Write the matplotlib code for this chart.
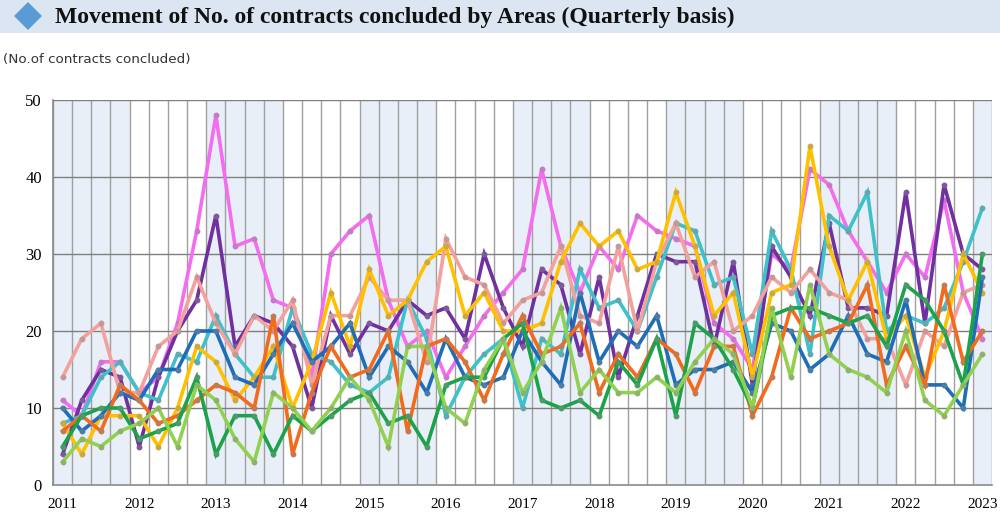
import matplotlib
matplotlib.use("Agg")
import matplotlib.pyplot as plt
from matplotlib.patches import Rectangle, Polygon
import numpy as np

years = [str(y) for y in range(2011, 2024)]
n_points = 49  # 2011Q1 .. 2023Q1

pink = [11, 9, 16, 16, 12, 14, 21, 33, 48, 31, 32, 24, 23, 14, 30, 33, 35, 24, 18, 20, 14, 18, 22, 25, 28,
        41, 31, 25, 31, 28, 35, 33, 32, 31, 21, 19, 15, 30, 28, 41, 39, 33, 29, 25, 30, 27, 37, 25, 19]
purple = [4, 11, 15, 14, 5, 14, 20, 24, 35, 18, 22, 21, 18, 10, 22, 17, 21, 20, 24, 22, 23, 19, 30, 23, 18,
          28, 26, 17, 27, 14, 22, 30, 29, 29, 18, 29, 13, 31, 27, 22, 34, 23, 23, 22, 38, 21, 39, 30, 28]
cyan = [8, 9, 14, 16, 12, 11, 17, 16, 22, 17, 14, 14, 23, 17, 16, 13, 12, 14, 24, 19, 9, 14, 17, 19, 10,
        19, 17, 28, 23, 24, 20, 27, 34, 33, 26, 27, 17, 33, 28, 17, 35, 33, 38, 20, 22, 21, 23, 29, 36]
gold = [8, 4, 9, 9, 9, 5, 10, 18, 16, 11, 14, 18, 10, 16, 25, 18, 28, 22, 24, 29, 31, 22, 25, 20, 20,
        21, 29, 34, 31, 33, 28, 29, 38, 31, 22, 25, 14, 25, 26, 44, 31, 24, 29, 19, 22, 14, 20, 30, 25]
salmon = [14, 19, 21, 12, 12, 18, 20, 27, 21, 17, 22, 20, 24, 13, 22, 22, 27, 24, 24, 16, 32, 27, 26, 21, 24,
          25, 31, 22, 21, 31, 20, 29, 34, 27, 29, 20, 22, 27, 25, 28, 25, 24, 19, 19, 13, 20, 18, 25, 26]
blue = [10, 7, 9, 12, 11, 15, 15, 20, 20, 14, 13, 17, 21, 16, 18, 21, 14, 18, 16, 12, 19, 14, 13, 14, 20,
        16, 13, 25, 16, 20, 18, 22, 13, 15, 15, 16, 12, 21, 20, 15, 17, 22, 17, 16, 24, 13, 13, 10, 27]
orange = [7, 9, 7, 13, 11, 8, 9, 11, 13, 12, 10, 22, 4, 12, 18, 14, 15, 20, 7, 18, 19, 16, 11, 17, 22,
          17, 18, 21, 12, 17, 14, 19, 17, 12, 18, 18, 9, 14, 23, 19, 20, 21, 26, 13, 18, 13, 26, 16, 20]
green = [5, 9, 10, 10, 6, 7, 8, 14, 4, 9, 9, 4, 9, 7, 9, 11, 12, 8, 9, 5, 13, 14, 14, 19, 21,
         11, 10, 11, 9, 16, 13, 19, 9, 21, 19, 15, 10, 22, 23, 23, 22, 21, 22, 18, 26, 24, 20, 13, 30]
lightgreen = [3, 6, 5, 7, 8, 10, 5, 13, 11, 6, 3, 12, 10, 7, 10, 14, 11, 5, 18, 18, 10, 8, 15, 19, 12,
              16, 23, 12, 15, 12, 12, 14, 12, 16, 19, 17, 10, 23, 14, 26, 17, 15, 14, 12, 20, 11, 9, 13, 17]

series = [
    (pink, "#F46CF0"),
    (purple, "#7030A0"),
    (cyan, "#3FC1CA"),
    (salmon, "#F4A09C"),
    (gold, "#FFC000"),
    (blue, "#1F6DB6"),
    (orange, "#F26B1D"),
    (green, "#1AA34A"),
    (lightgreen, "#92D050"),
]

W, H = 1000, 514
fig = plt.figure(figsize=(W / 100, H / 100), dpi=100)

# title band
fig.patches.append(Rectangle((0, 1 - 33 / H), 1, 33 / H, transform=fig.transFigure,
                             facecolor="#DCE6F2", edgecolor="none", zorder=0))
cx, cy, r = 28 / W, 1 - 16 / H, 14
fig.patches.append(Polygon([(cx - r / W, cy), (cx, cy + r / H), (cx + r / W, cy), (cx, cy - r / H)],
                           closed=True, transform=fig.transFigure, facecolor="#5B9BD5",
                           edgecolor="none", zorder=1))
fig.text(55 / W, 1 - 17 / H, "Movement of No. of contracts concluded by Areas (Quarterly basis)",
         fontsize=17, fontweight="bold", family="Liberation Serif", va="center", ha="left",
         color="#111111")
fig.text(3 / W, 1 - 60 / H, "(No.of contracts concluded)", fontsize=9.7, family="DejaVu Sans",
         va="center", ha="left", color="#333333")

left, right, top, bottom = 53, 992, 100, 485
ax = fig.add_axes([left / W, 1 - bottom / H, (right - left) / W, (bottom - top) / H])

x = np.arange(n_points)
ax.set_xlim(-0.5, n_points - 0.5)
ax.set_ylim(0, 50)

# alternating year shading
for k, yr in enumerate(years):
    start = 4 * k - 0.5
    end = min(start + 4, n_points - 0.5)
    if k % 2 == 0:
        ax.axvspan(start, end, facecolor="#E9EFF8", edgecolor="none", zorder=0)

for b in np.arange(-0.5, n_points, 1.0):
    ax.axvline(b, color="#A0A0A0", lw=1.0, zorder=1)
for yv in [10, 20, 30, 40, 50]:
    ax.axhline(yv, color="#7F7F7F", lw=1.0, zorder=1)

for vals, col in series:
    rgb = np.array(matplotlib.colors.to_rgb(col))
    mcol = 0.55 * rgb + 0.45 * np.array([0.55, 0.55, 0.55])
    ax.plot(x, vals, color=col, lw=2.6, zorder=3, solid_joinstyle="miter",
            marker="o", markersize=3.2, markerfacecolor=mcol, markeredgecolor=mcol)

ax.set_xticks(np.arange(0, n_points, 4))
ax.set_xticklabels(years, family="Liberation Serif", fontsize=11)
ax.set_yticks([0, 10, 20, 30, 40, 50])
ax.set_yticklabels(["0", "10", "20", "30", "40", "50"], family="Liberation Serif", fontsize=12)
ax.tick_params(axis="both", length=0, pad=8)
ax.tick_params(axis="x", pad=9)
for s in ["top", "right"]:
    ax.spines[s].set_visible(False)
ax.spines["left"].set_color("#8A8A8A")
ax.spines["bottom"].set_color("#8A8A8A")
ax.spines["left"].set_linewidth(1.2)
ax.spines["bottom"].set_linewidth(1.2)
ax.set_axisbelow(False)

fig.savefig("out.png", dpi=100)
